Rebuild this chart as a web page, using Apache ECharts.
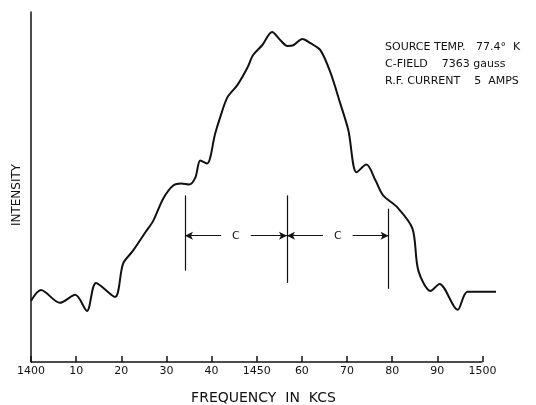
<!DOCTYPE html>
<html>
<head>
<meta charset="utf-8">
<script src="https://cdn.jsdelivr.net/npm/echarts@6/dist/echarts.min.js"></script>
<style>
  html, body { margin: 0; padding: 0; background: #fff; }
  #chart { width: 536px; height: 405px; }
</style>
</head>
<body>
<div id="chart"></div>
<script>
// frequency (kc/s) and intensity (arbitrary units)
var freq = [1400.0, 1402.2, 1406.4, 1409.8, 1412.4, 1414.4, 1418.6, 1420.4, 1422.6, 1425.3,
  1427.1, 1429.3, 1431.5, 1433.3, 1435.0, 1436.4, 1437.5, 1439.0, 1440.8, 1441.9,
  1443.5, 1445.7, 1447.9, 1449.2, 1451.2, 1453.4, 1455.2, 1456.8, 1458.1, 1460.1,
  1461.9, 1464.1, 1466.3, 1468.5, 1470.3, 1472.1, 1474.3, 1476.3, 1478.0, 1481.2,
  1484.5, 1485.8, 1488.5, 1490.5, 1494.5, 1496.7, 1503.0]
var intensity = [17.5, 20.6, 16.9, 19.2, 14.6, 22.6, 18.6, 28.1, 31.8, 37.0,
  40.4, 46.7, 50.4, 51.0, 50.7, 52.7, 57.6, 56.7, 65.3, 69.9,
  75.6, 79.1, 84.0, 87.7, 90.5, 94.3, 92.0, 90.3, 90.5, 92.3,
  91.1, 89.1, 82.8, 73.9, 66.2, 54.2, 56.4, 51.9, 47.6, 44.1,
  38.1, 26.1, 20.3, 22.3, 14.9, 20.1, 20.1]

// tick labels on the frequency axis
var tickValues = [1400, 1410, 1420, 1430, 1440, 1450, 1460, 1470, 1480, 1490, 1500]
var tickLabels = ['1400', '10', '20', '30', '40', '1450', '60', '70', '80', '90', '1500']

// "C" spacing markers: frequency, bottom and top of each vertical bar
var cMarkFreq = [1434.1, 1456.7, 1479.2]
var cMarkLow = [26.1, 22.6, 20.9]
var cMarkHigh = [47.6, 47.6, 43.8]
var cArrowLevel = 36.1

var notes = ['SOURCE TEMP.   77.4°  K', 'C-FIELD    7363 gauss', 'R.F. CURRENT    5  AMPS']

var font = 'DejaVu Sans'
var ink = '#111'

var data = freq.map(function (f, i) {
  return [f, intensity[i]]
})

var markLines = []
// the frequency axis line itself stops at 1500 while the trace runs a bit past it
markLines.push([
  { coord: [1400, 0], symbol: 'none', lineStyle: { width: 1.5 }, label: { show: false } },
  { coord: [1500, 0], symbol: 'none' },
])
cMarkFreq.forEach(function (f, i) {
  markLines.push([
    { coord: [f, cMarkLow[i]], symbol: 'none', label: { show: false } },
    { coord: [f, cMarkHigh[i]], symbol: 'none' },
  ])
})
for (var i = 0; i < cMarkFreq.length - 1; i++) {
  markLines.push([
    {
      coord: [cMarkFreq[i], cArrowLevel],
      symbol: 'arrow',
      label: {
        show: true,
        position: 'insideMiddle',
        distance: 0,
        formatter: 'C',
        color: ink,
        fontFamily: font,
        fontSize: 11,
        backgroundColor: '#fff',
        padding: [1, 11],
      },
    },
    { coord: [cMarkFreq[i + 1], cArrowLevel], symbol: 'arrow' },
  ])
}

var myChart = echarts.init(document.getElementById('chart'))
myChart.setOption({
  animation: false,
  backgroundColor: '#fff',
  grid: {
    left: 31,
    right: 40,
    top: 12,
    bottom: 43,
    outerBoundsMode: 'none',
  },
  xAxis: {
    type: 'value',
    min: 1400,
    max: 1503,
    interval: 10,
    name: 'FREQUENCY  IN  KCS',
    nameLocation: 'middle',
    nameGap: 29,
    nameTextStyle: {
      color: ink,
      fontFamily: font,
      fontSize: 14,
      verticalAlign: 'top',
      padding: [0, 0, 0, 0],
    },
    axisLine: { show: false },
    axisTick: {
      inside: true,
      length: 6,
      customValues: tickValues,
      lineStyle: { color: ink, width: 1.5 },
    },
    axisLabel: {
      color: ink,
      fontFamily: font,
      fontSize: 11,
      margin: 4,
      customValues: tickValues,
      formatter: function (v) {
        var k = tickValues.indexOf(v)
        return k >= 0 ? tickLabels[k] : ''
      },
    },
    splitLine: { show: false },
  },
  yAxis: {
    type: 'value',
    min: 0,
    max: 100,
    axisLine: {
      show: true,
      lineStyle: { color: ink, width: 1.5 },
    },
    axisTick: { show: false },
    axisLabel: { show: false },
    splitLine: { show: false },
  },
  graphic: [
    {
      type: 'text',
      x: 17,
      y: 195,
      rotation: Math.PI / 2,
      style: {
        text: 'INTENSITY',
        fill: ink,
        font: '12px "' + font + '"',
        align: 'center',
        verticalAlign: 'middle',
      },
    },
  ].concat(notes.map(function (t, i) {
    return {
      type: 'text',
      left: 385,
      top: 42 + i * 17,
      style: {
        text: t,
        fill: ink,
        font: '11px "' + font + '"',
      },
    }
  })),
  series: [
    {
      type: 'line',
      data: data,
      smooth: 0.3,
      showSymbol: false,
      lineStyle: { color: ink, width: 2 },
      markLine: {
        silent: true,
        symbolSize: [6, 8],
        lineStyle: { color: ink, width: 1.2, type: 'solid' },
        label: { show: false },
        data: markLines,
      },
    },
  ],
})
</script>
</body>
</html>
